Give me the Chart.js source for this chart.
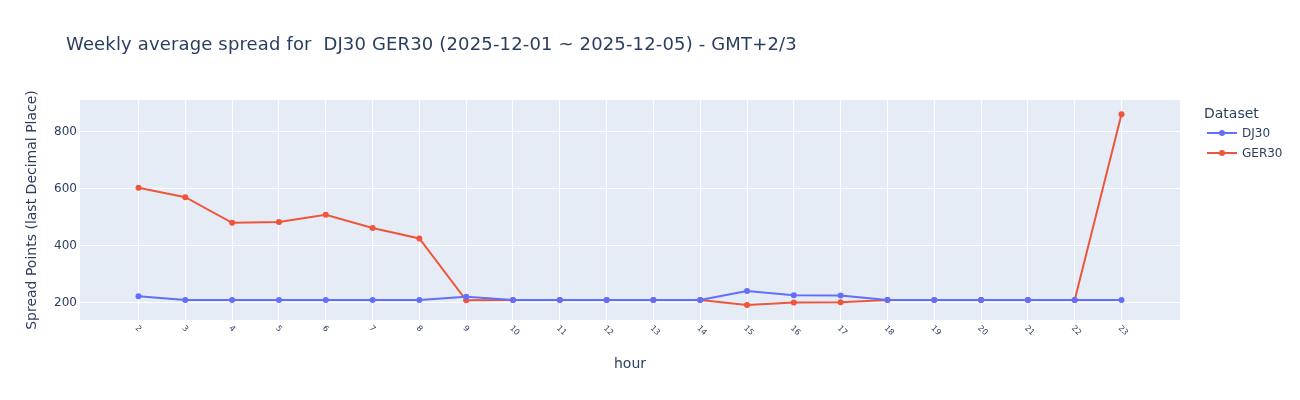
<!DOCTYPE html>
<html>
<head>
<meta charset="utf-8">
<script src="https://cdn.jsdelivr.net/npm/chart.js@4.4.0/dist/chart.umd.min.js"></script>
<style>
  body { margin: 0; background: #fff; }
  #wrap { position: relative; width: 1300px; height: 400px; font-family: "DejaVu Sans", sans-serif; color: #2a3f5f; }
  #title { position: absolute; left: 66px; top: 32px; font-size: 18px; letter-spacing: 0.15px; white-space: pre; line-height: 24px; }
  #legend { position: absolute; left: 1204px; top: 103px; font-size: 12px; }
  #legend .head { font-size: 14px; line-height: 20px; margin-bottom: 0px; }
  #legend .item { display: flex; align-items: center; height: 20px; margin-left: 3px; }
  #legend .sym { position: relative; width: 30px; height: 2px; margin-right: 5px; }
  #legend .sym span { position: absolute; left: 12px; top: -2px; width: 6px; height: 6px; border-radius: 50%; }
</style>
</head>
<body>
<div id="wrap">
  <canvas id="lineChart" width="1300" height="400"></canvas>
  <div id="title">Weekly average spread for  DJ30 GER30 (2025-12-01 ~ 2025-12-05) - GMT+2/3</div>
  <div id="legend">
    <div class="head">Dataset</div>
    <div class="item"><div class="sym" style="background:#636efa"><span style="background:#636efa"></span></div>DJ30</div>
    <div class="item"><div class="sym" style="background:#EF553B"><span style="background:#EF553B"></span></div>GER30</div>
  </div>
</div>
<script>
var hours = [2, 3, 4, 5, 6, 7, 8, 9, 10, 11, 12, 13, 14, 15, 16, 17, 18, 19, 20, 21, 22, 23];
var dj30 = [222, 209, 209, 209, 209, 209, 209, 221, 209, 209, 209, 209, 209, 241, 226, 225, 209, 209, 209, 209, 209, 209];
var ger30 = [603, 570, 480, 483, 508, 462, 425, 208, 209, 209, 209, 209, 209, 192, 200, 201, 209, 209, 209, 209, 209, 861];
var yTicks = [200, 400, 600, 800];

function toPoints(values) {
  return hours.map(function (h, i) { return { x: h, y: values[i] }; });
}

// plot background like plotly
var plotBg = {
  id: 'plotBg',
  beforeDraw: function (chart) {
    var a = chart.chartArea;
    var ctx = chart.ctx;
    ctx.save();
    ctx.fillStyle = '#E5ECF6';
    ctx.fillRect(a.left, a.top, a.right - a.left, a.bottom - a.top);
    ctx.restore();
  }
};

// x tick labels rotated clockwise
var slantTicks = {
  id: 'slantTicks',
  afterDraw: function (chart) {
    var xs = chart.scales.x;
    var ctx = chart.ctx;
    ctx.save();
    ctx.fillStyle = '#2a3f5f';
    ctx.font = '8px "DejaVu Sans"';
    ctx.textAlign = 'left';
    ctx.textBaseline = 'middle';
    hours.forEach(function (h) {
      var px = xs.getPixelForValue(h);
      ctx.save();
      ctx.translate(px - 2, chart.chartArea.bottom + 7);
      ctx.rotate(Math.PI / 4);
      ctx.fillText(String(h), 0, 0);
      ctx.restore();
    });
    ctx.restore();
  }
};

var lineConfig = {
  type: 'line',
  data: {
    datasets: [{
      label: 'DJ30',
      data: toPoints(dj30),
      borderColor: '#636efa',
      backgroundColor: '#636efa',
      borderWidth: 2,
      pointRadius: 3,
      pointBorderWidth: 0,
      tension: 0
    }, {
      label: 'GER30',
      data: toPoints(ger30),
      borderColor: '#EF553B',
      backgroundColor: '#EF553B',
      borderWidth: 2,
      pointRadius: 3,
      pointBorderWidth: 0,
      tension: 0
    }]
  },
  options: {
    responsive: false,
    animation: false,
    layout: { padding: { top: 100, right: 120, left: 0, bottom: 0 } },
    plugins: {
      legend: { display: false },
      title: { display: false },
      tooltip: { enabled: false }
    },
    scales: {
      x: {
        type: 'linear',
        min: 0.75,
        max: 24.25,
        afterBuildTicks: function (scale) {
          scale.ticks = hours.map(function (h) { return { value: h }; });
        },
        afterFit: function (scale) { scale.height = 80; },
        grid: { color: '#ffffff', lineWidth: 1, drawTicks: false },
        border: { display: false },
        ticks: { display: false },
        title: {
          display: true,
          text: 'hour',
          color: '#2a3f5f',
          font: { family: 'DejaVu Sans', size: 14 },
          padding: { top: 0, bottom: 27 }
        }
      },
      y: {
        min: 139,
        max: 911,
        afterBuildTicks: function (scale) {
          scale.ticks = yTicks.map(function (v) { return { value: v }; });
        },
        afterFit: function (scale) { scale.width = 80; },
        grid: { color: '#ffffff', lineWidth: 1, drawTicks: false },
        border: { display: false },
        ticks: {
          color: '#2a3f5f',
          font: { family: 'DejaVu Sans', size: 12 },
          padding: 3
        },
        title: {
          display: true,
          text: 'Spread Points (last Decimal Place)',
          color: '#2a3f5f',
          font: { family: 'DejaVu Sans', size: 14 },
          padding: { top: 24, bottom: 0 }
        }
      }
    }
  },
  plugins: [plotBg, slantTicks]
};

var lineChart = new Chart(document.getElementById('lineChart'), lineConfig);
</script>
</body>
</html>
